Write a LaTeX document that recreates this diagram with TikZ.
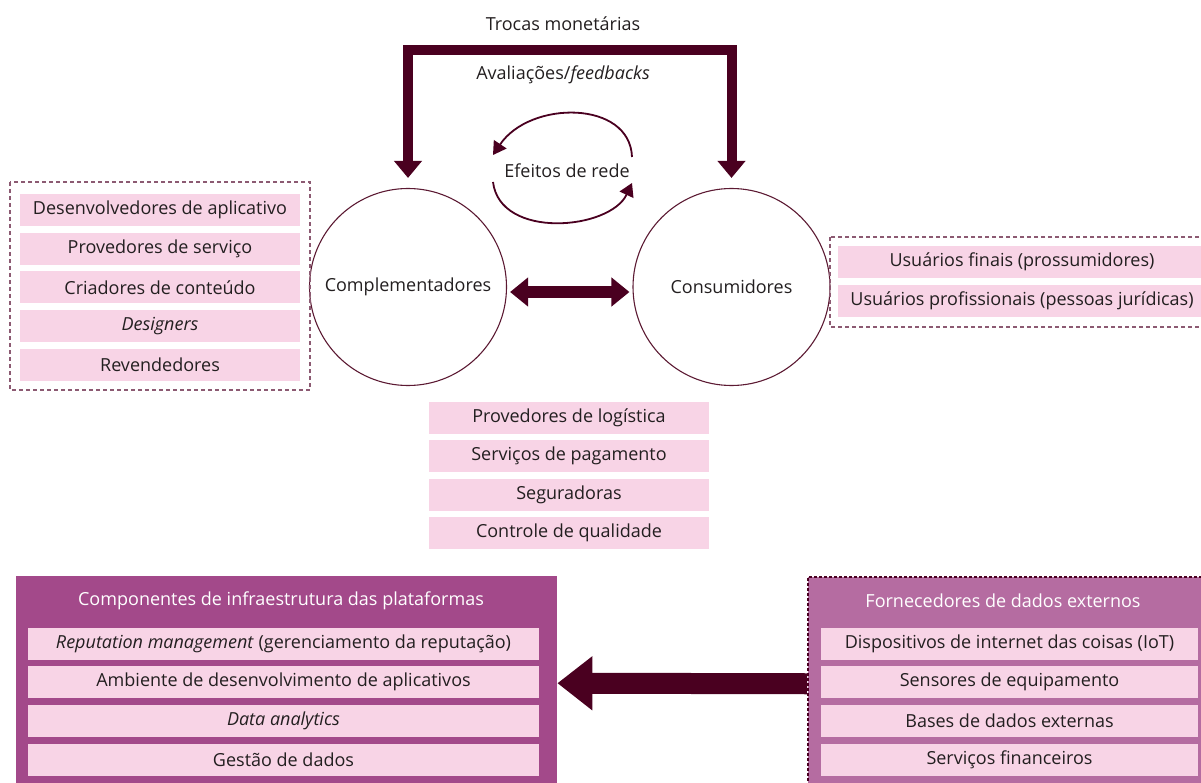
\documentclass[tikz,border=0pt]{standalone}
\usepackage{fontspec}
\setmainfont{Open Sans}
\usetikzlibrary{arrows.meta}
\usetikzlibrary{calc}
\usepackage{xcolor}

\definecolor{rowpink}{HTML}{F8D4E6}
\definecolor{infrapurple}{HTML}{A3498A}
\definecolor{extpurple}{HTML}{B56CA1}
\definecolor{flowmaroon}{HTML}{4A0020}
\definecolor{circline}{HTML}{5C1A33}
\definecolor{dashmauve}{HTML}{8C5A72}
\definecolor{textgray}{HTML}{231F20}

\tikzset{
  rowbox/.style={fill=rowpink, minimum height=32pt, inner sep=0pt, text=textgray},
  actor/.style={circle, draw=circline, line width=1.1pt, minimum size=197pt, inner sep=0pt, text=textgray},
  groupbox/.style={draw=dashmauve, dash pattern=on 4pt off 3pt, line width=1.1pt},
  topflow/.style={draw=flowmaroon, line width=10pt, line join=miter,
    {Triangle[length=17pt,width=27pt]}-{Triangle[length=17pt,width=27pt]}},
  midflow/.style={draw=flowmaroon, line width=12pt, shorten <=3pt, shorten >=3pt,
    {Triangle[length=18pt,width=28pt]}-{Triangle[length=18pt,width=28pt]}},
  dataflow/.style={draw=flowmaroon, line width=21pt, -{Triangle[length=35pt,width=52pt]}},
  loopflow/.style={draw=flowmaroon, line width=1.8pt, -{Triangle[length=13pt,width=15pt]}},
}

\begin{document}
\begin{tikzpicture}[x=1pt, y=-1pt, every node/.style={font=\fontsize{18}{21}\selectfont, text=textgray}]

        \useasboundingbox (0,0) rectangle (1201,783);

        % Actors
        \node[actor] (compl) at (408,287) {Complementadores};
        \node[actor] (cons) at (731.5,287) {Consumidores};

        % Exchanges
        \draw[topflow] ([yshift=10pt]compl.north) -- ++(0,-127.5) -| ([yshift=10pt]cons.north);
        \node (trocas) at (563,24) {Trocas monetárias};
        \node (aval) at (563,75) {Avaliações/\textit{feedbacks}};
        \draw[midflow] ([yshift=-5pt]compl.east) -- ([yshift=-5pt]cons.west);

        % Network effects
        \node (rede) at (567,171) {Efeitos de rede};
        \coordinate (r1) at (632,157);
        \coordinate (r2) at (493,155);
        \coordinate (r3) at (493,182);
        \coordinate (r4) at (632,183);
        \draw[loopflow] (r1) .. controls (630,100) and (530,100) .. (r2);
        \draw[loopflow] (r3) .. controls (500,240) and (610,230) .. (r4);

        % Complementors
        \draw[groupbox] (10,182) rectangle (310,390);
        \foreach \t [count=\i] in {Desenvolvedores de aplicativo, Provedores de serviço,
            Criadores de conteúdo, {\textit{Designers}}, Revendedores}
        {
          \node[rowbox, minimum width=280pt] (c\i) at (160,{210+38.75*(\i-1)}) {\t};
        }

        % Consumers
        \draw[groupbox] (830,237) rectangle (1215,327);
        \foreach \t [count=\i] in {Usuários finais (prossumidores), Usuários profissionais (pessoas jurídicas)}
        {
          \node[rowbox, minimum width=368pt] (u\i) at (1022,{262+39*(\i-1)}) {\t};
        }

        % Services
        \foreach \t [count=\i] in {Provedores de logística, Serviços de pagamento,
            Seguradoras, Controle de qualidade}
        {
          \node[rowbox, minimum width=280pt] (s\i) at (569,{417.5+38.5*(\i-1)}) {\t};
        }

        % Infrastructure
        \node[fill=infrapurple, minimum width=541pt, minimum height=214pt, inner sep=0pt,
              anchor=north west] (infra) at (16,576) {};
        \node[text=white] (infratitle) at (281,601) {Componentes de infraestrutura das plataformas};
        \foreach \t [count=\i] in {{\textit{Reputation management} (gerenciamento da reputação)},
            Ambiente de desenvolvimento de aplicativos, {\textit{Data analytics}}, Gestão de dados}
        {
          \node[rowbox, minimum width=511pt] (p\i) at (283.5,{643.5+38.75*(\i-1)}) {\t};
        }

        % External data
        \node[fill=extpurple, draw=flowmaroon, dash pattern=on 3pt off 2pt, line width=1.5pt,
              minimum width=410pt, minimum height=214pt, inner sep=0pt,
              anchor=north west] (ext) at (807,576) {};
        \node[text=white] (exttitle) at (1003,601) {Fornecedores de dados externos};
        \foreach \t [count=\i] in {Dispositivos de internet das coisas (IoT), Sensores de equipamento,
            Bases de dados externas, Serviços financeiros}
        {
          \node[rowbox, minimum width=377pt] (e\i) at (1009.5,{643.5+38.75*(\i-1)}) {\t};
        }

        \draw[dataflow] (ext.west) -- (infra.east);

    \end{tikzpicture}
\end{document}
